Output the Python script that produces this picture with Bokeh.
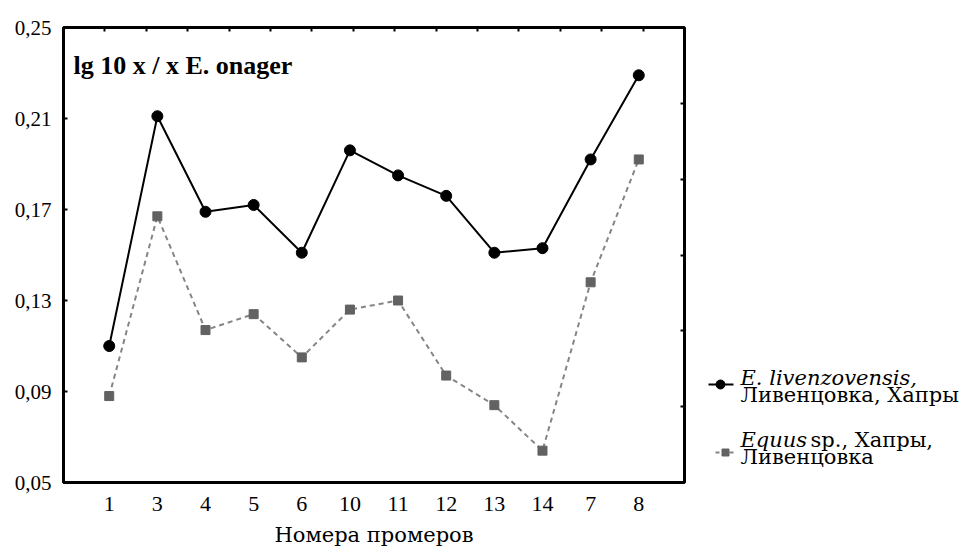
from bokeh.plotting import figure
from bokeh.models import (FactorRange, Range1d, LinearAxis, CategoricalAxis, FixedTicker,
                          CustomJSTickFormatter, Label, ColumnDataSource)
from bokeh.layouts import row
from bokeh.embed import file_html
from bokeh.resources import INLINE
from bokeh.core.properties import value

# ---------------- data ----------------
categories = ["1", "3", "4", "5", "6", "10", "11", "12", "13", "14", "7", "8"]
livenzovensis = [0.110, 0.211, 0.169, 0.172, 0.151, 0.196, 0.185, 0.176, 0.151, 0.153, 0.192, 0.229]
equus_sp = [0.088, 0.167, 0.117, 0.124, 0.105, 0.126, 0.130, 0.097, 0.084, 0.064, 0.138, 0.192]
y_ticks = [0.05, 0.09, 0.13, 0.17, 0.21, 0.25]
top_tick_slots = [f"t{i}" for i in range(1, 15)]
right_ticks = [1, 2, 3, 4, 5]
title_text = "lg 10 x / x E. onager"
x_label = "Номера промеров"
legend1_italic = "E. livenzovensis,"
legend1_line2 = "Ливенцовка, Хапры"
legend2_italic = "Equus"
legend2_rest = "sp., Хапры,"
legend2_line2 = "Ливенцовка"

BLACK = "black"
GRAY_LINE = "#858585"
GRAY_MARK = "#626262"
SERIF = "Liberation Serif"
LSERIF = "DejaVu Serif"

src = ColumnDataSource(data=dict(cat=categories, liv=livenzovensis, eq=equus_sp))

# ---------------- main plot ----------------
p = figure(width=688, height=550,
           x_range=FactorRange(factors=categories, range_padding=0.45, range_padding_units="absolute"),
           y_range=Range1d(0.05, 0.25),
           output_backend="svg", toolbar_location=None,
           min_border_left=63, min_border_right=4, min_border_top=27, min_border_bottom=68)
p.xgrid.visible = False
p.ygrid.visible = False
p.outline_line_color = "black"
p.outline_line_width = 3
p.background_fill_color = "white"
p.border_fill_color = "white"

# bottom axis
xa = p.xaxis[0]
xa.major_tick_line_color = None
xa.minor_tick_line_color = None
xa.axis_line_color = None
xa.major_label_text_font = SERIF
xa.major_label_text_font_size = "22px"
xa.major_label_text_color = "black"
xa.major_label_standoff = 8
xa.axis_label = x_label
xa.axis_label_text_font = LSERIF
xa.axis_label_text_font_style = "normal"
xa.axis_label_text_font_size = "21px"
xa.axis_label_text_color = "black"
xa.axis_label_standoff = 9

# left axis
ya = p.yaxis[0]
ya.ticker = FixedTicker(ticks=y_ticks)
ya.formatter = CustomJSTickFormatter(code="return tick.toFixed(2).replace('.', ',');")
ya.major_tick_in = 4
ya.major_tick_out = 0
ya.major_tick_line_width = 2
ya.minor_tick_line_color = None
ya.axis_line_color = None
ya.major_label_text_font = SERIF
ya.major_label_text_font_size = "21px"
ya.major_label_text_color = "black"
ya.major_label_standoff = 12

# decorative top / right ticks (no labels)
p.extra_x_ranges = {"top": FactorRange(factors=top_tick_slots, range_padding=0.5,
                                       range_padding_units="absolute")}
p.extra_y_ranges = {"right": Range1d(0, 6)}
top_ax = CategoricalAxis(x_range_name="top",
                         major_label_text_font_size="1px", major_label_text_color=None,
                         major_tick_in=4, major_tick_out=0,
                         major_tick_line_width=2, minor_tick_line_color=None, axis_line_color=None,
                         major_label_standoff=0)
right_ax = LinearAxis(y_range_name="right", ticker=FixedTicker(ticks=right_ticks),
                      major_label_text_font_size="1px", major_label_text_color=None,
                      major_tick_in=4, major_tick_out=0,
                      major_tick_line_width=2, minor_tick_line_color=None, axis_line_color=None,
                      major_label_standoff=0)
p.add_layout(top_ax, "above")
p.add_layout(right_ax, "right")

# series
p.line(x="cat", y="eq", source=src, line_color=GRAY_LINE, line_width=2, line_dash="5 4")
p.scatter(x="cat", y="eq", source=src, marker="square", size=9,
          fill_color=GRAY_MARK, line_color=GRAY_MARK)
p.line(x="cat", y="liv", source=src, line_color=BLACK, line_width=2)
p.scatter(x="cat", y="liv", source=src, marker="circle", size=11,
          fill_color=BLACK, line_color=BLACK)

p.add_layout(Label(x=10, y=417, x_units="screen", y_units="screen", text=title_text,
                   text_font=SERIF, text_font_style="bold", text_font_size="26px",
                   text_baseline="alphabetic", text_color="black"))

# ---------------- legend panel ----------------
# y range expressed in page pixels of the aligned frame (top 27, bottom 482)
lf = figure(width=280, height=550, x_range=Range1d(0, 280), y_range=Range1d(482, 27),
            output_backend="svg", toolbar_location=None, x_axis_type=None, y_axis_type=None,
            min_border=0)
lf.outline_line_color = None
lf.xgrid.visible = False
lf.ygrid.visible = False

lf.line(x=[20, 45], y=[384, 384], line_color=BLACK, line_width=2)
lf.scatter(x=[32], y=[384], marker="circle", size=9, fill_color=BLACK, line_color=BLACK)
lf.line(x=[27, 45], y=[452, 452], line_color=GRAY_LINE, line_width=2, line_dash="4 3")
lf.scatter(x=[37], y=[452], marker="square", size=7, fill_color=GRAY_MARK, line_color=GRAY_MARK)

common = dict(text_font=value(LSERIF), text_font_size="21px", text_color="black",
              text_baseline="alphabetic")
lf.text(x=[52], y=[377], text=[legend1_italic], text_font_style="italic", **common)
lf.text(x=[52], y=[394], text=[legend1_line2], **common)
lf.text(x=[52], y=[439], text=[legend2_italic], text_font_style="italic", **common)
lf.text(x=[122], y=[439], text=[legend2_rest], **common)
lf.text(x=[52], y=[456], text=[legend2_line2], **common)

layout = row(p, lf, spacing=0)
open("out.html", "w").write(file_html(layout, INLINE))
